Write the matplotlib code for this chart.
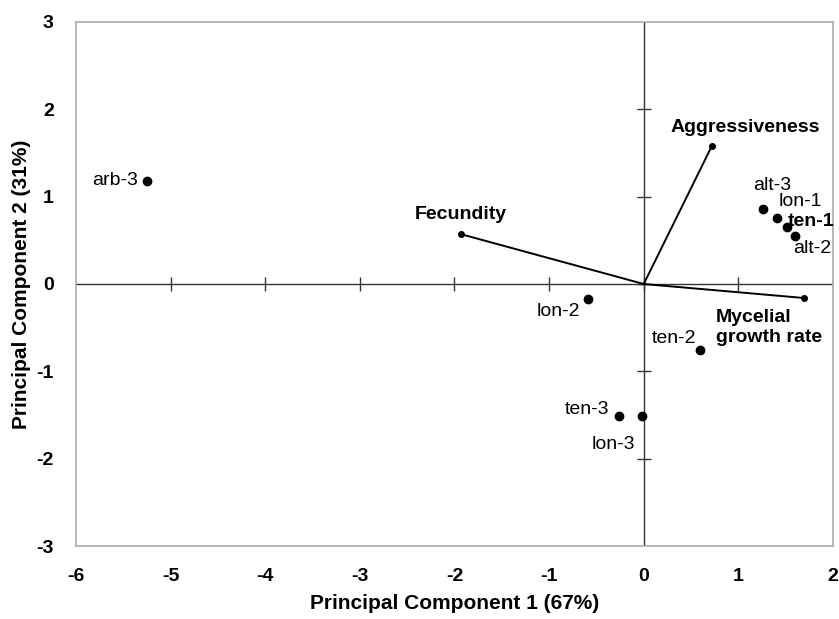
import matplotlib
matplotlib.use('Agg')
import matplotlib.pyplot as plt

plt.rcParams['font.family'] = ['Liberation Sans', 'DejaVu Sans']
plt.rcParams['axes.unicode_minus'] = False

# scores des isolats
isolates = ['arb-3', 'lon-2', 'ten-3', 'lon-3', 'ten-2', 'alt-3', 'lon-1', 'ten-1', 'alt-2']
pc1 = [-5.25, -0.59, -0.26, -0.02, 0.60, 1.26, 1.41, 1.51, 1.60]
pc2 = [1.18, -0.17, -1.51, -1.51, -0.75, 0.86, 0.76, 0.65, 0.55]

# vecteurs des variables
variables = ['Fecundity', 'Aggressiveness', 'Mycelial\ngrowth rate']
load1 = [-1.93, 0.72, 1.69]
load2 = [0.57, 1.58, -0.16]

xticks = [-6, -5, -4, -3, -2, -1, 0, 1, 2]
yticks = [-3, -2, -1, 0, 1, 2, 3]

fig = plt.figure(figsize=(8.39, 6.19), dpi=100)
ax = fig.add_axes([0.0906, 0.1179, 0.9022, 0.8466])

# cadre gris
for spine in ax.spines.values():
    spine.set_color('#aaaaaa')
    spine.set_linewidth(1.2)

# axes passant par zéro, avec petites graduations
ax.axhline(0, color='#333333', lw=1, zorder=1)
ax.axvline(0, color='#333333', lw=1, zorder=1)
ax.plot([t for t in xticks if t not in (-6, 2)], [0] * 7, ls='none', marker='|',
        ms=10, mew=1, color='#333333', zorder=1)
ax.plot([0] * 5, [t for t in yticks if t not in (-3, 3)], ls='none', marker='_',
        ms=10, mew=1, color='#333333', zorder=1)

# vecteurs
for x, y in zip(load1, load2):
    ax.plot([0, x], [0, y], color='black', lw=1.4, zorder=2)
    ax.plot(x, y, 'o', color='black', ms=4, zorder=3)

ax.plot(pc1, pc2, 'o', color='black', ms=6, zorder=3)

# étiquettes des points
lab_pos = {
    'arb-3': (-5.34, 1.18, 'right'),
    'lon-2': (-0.67, -0.32, 'right'),
    'ten-3': (-0.36, -1.44, 'right'),
    'lon-3': (-0.09, -1.84, 'right'),
    'ten-2': (0.56, -0.62, 'right'),
    'alt-3': (1.36, 1.13, 'center'),
    'lon-1': (1.43, 0.94, 'left'),
    'ten-1': (1.52, 0.72, 'left'),
    'alt-2': (1.58, 0.41, 'left'),
}
for name in isolates:
    tx, ty, ha = lab_pos[name]
    ax.text(tx, ty, name, ha=ha, va='center', fontsize=14,
            fontweight='bold' if name == 'ten-1' else 'normal')

ax.text(-1.93, 0.80, 'Fecundity', ha='center', va='center', fontsize=14, fontweight='bold')
ax.text(1.07, 1.79, 'Aggressiveness', ha='center', va='center', fontsize=14, fontweight='bold')
ax.text(0.76, -0.29, 'Mycelial\ngrowth rate', ha='left', va='top', fontsize=14,
        fontweight='bold', linespacing=1.2)

ax.set_xlim(-6, 2)
ax.set_ylim(-3, 3)
ax.set_xticks(xticks)
ax.set_yticks(yticks)
ax.tick_params(length=0, labelsize=14, pad=16)
for lbl in ax.get_xticklabels() + ax.get_yticklabels():
    lbl.set_fontweight('bold')

ax.set_xlabel('Principal Component 1 (67%)', fontsize=15, fontweight='bold', labelpad=6)
ax.set_ylabel('Principal Component 2 (31%)', fontsize=15, fontweight='bold', labelpad=4)

fig.savefig('out.png', dpi=100)
